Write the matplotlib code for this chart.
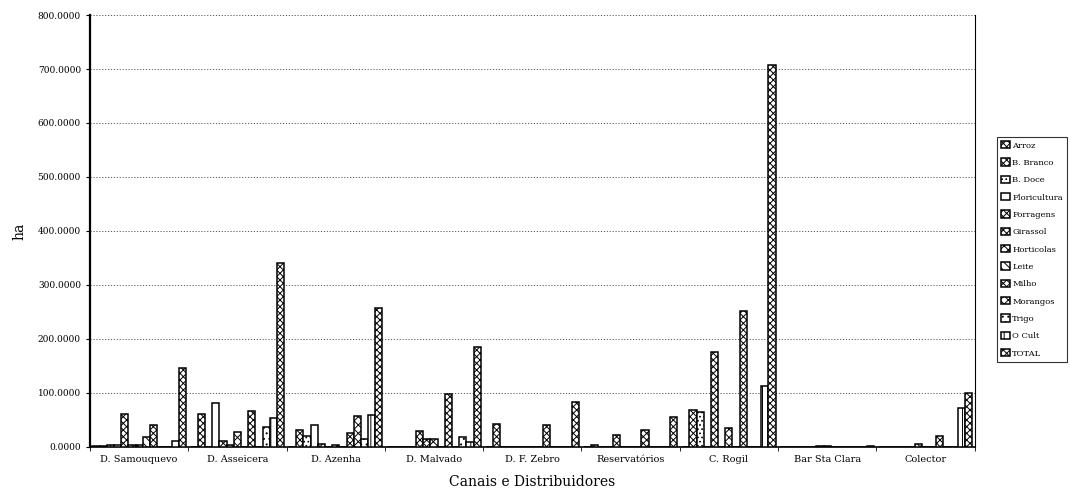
import numpy as np
import matplotlib.pyplot as plt

plt.rcParams.update({"font.family": "DejaVu Serif", "hatch.linewidth": 0.7})

categories = ["D. Samouquevo", "D. Asseicera", "D. Azenha", "D. Malvado", "D. F. Zebro",
              "Reservatórios", "C. Rogil", "Bar Sta Clara", "Colector"]
series = ["Arroz", "B. Branco", "B. Doce", "Floricultura", "Forragens", "Girassol",
          "Horticolas", "Leite", "Milho", "Morangos", "Trigo", "O Cult", "TOTAL"]

arroz        = [1, 0, 0, 0, 0, 0, 0, 0, 0]
b_branco     = [2, 61, 32, 0, 42, 3, 68, 0, 0]
b_doce       = [3, 0, 20, 0, 0, 0, 65, 0, 0]
floricultura = [3, 82, 41, 0, 0, 0, 0, 0, 0]
forragens    = [61, 10, 5, 30, 0, 22, 175, 0, 0]
girassol     = [4, 3, 0, 15, 0, 0, 0, 1, 6]
horticolas   = [4, 27, 3, 15, 0, 0, 35, 1, 0]
leite        = [19, 0, 0, 0, 0, 0, 0, 0, 0]
milho        = [40, 67, 25, 98, 40, 31, 252, 0, 20]
morangos     = [0, 0, 58, 0, 0, 0, 0, 0, 0]
trigo        = [0, 37, 15, 18, 0, 0, 0, 0, 0]
o_cult       = [11, 53, 60, 9, 0, 0, 112, 0, 72]
total        = [147, 340, 258, 185, 83, 56, 707, 2, 99]

values = [arroz, b_branco, b_doce, floricultura, forragens, girassol, horticolas,
          leite, milho, morangos, trigo, o_cult, total]
hatches = ["xxxxx", "xxxxx", "....", "", "xxxxx", "XXXXX", "xxxx", "\\\\\\\\", "xxxxx",
           "XXXX", "...", "||", "xxxxx"]

fig = plt.figure(figsize=(10.71, 5.01), dpi=100)
ax = fig.add_axes([0.084, 0.108, 0.826, 0.862])

x = np.arange(len(categories))
w = 0.0732
start = -0.5 + 0.0244
for i, (name, vals, h) in enumerate(zip(series, values, hatches)):
    ax.bar(x + start + i * w, vals, width=w, align="edge", facecolor="white",
           edgecolor="black", hatch=h, linewidth=1.1, label=name, zorder=3)

ax.set_xlim(-0.5, len(categories) - 0.5)
ax.set_ylim(0, 800)
ax.set_yticks(np.arange(0, 801, 100))
ax.set_yticklabels([f"{v:.4f}" for v in range(0, 801, 100)], fontsize=6.5)
ax.yaxis.grid(True, linestyle=(0, (1.2, 1.8)), color="0.35", linewidth=0.7, zorder=0)
ax.set_xticks(x)
ax.set_xticklabels(categories, fontsize=7)
ax.tick_params(axis="x", length=0, pad=6)
ax.set_xticks(np.arange(-0.5, len(categories)), minor=True)
ax.tick_params(axis="x", which="minor", length=3, direction="out")
ax.tick_params(axis="y", length=3, direction="out")

ax.spines["left"].set_linewidth(1.6)
ax.spines["bottom"].set_linewidth(1.2)
ax.spines["top"].set_visible(False)
ax.spines["right"].set_linewidth(0.8)

ax.set_ylabel("ha", fontsize=10, labelpad=8)
ax.set_xlabel("Canais e Distribuidores", fontsize=10, labelpad=8)

leg = fig.legend(loc="upper left", bbox_to_anchor=(0.931, 0.727), fontsize=6,
                 frameon=True, fancybox=False, edgecolor="black", handlelength=1.0,
                 handleheight=1.0, handletextpad=0.3, labelspacing=1.05,
                 borderpad=0.5, borderaxespad=0)
leg.get_frame().set_linewidth(0.8)

fig.savefig("out.png", dpi=100)
